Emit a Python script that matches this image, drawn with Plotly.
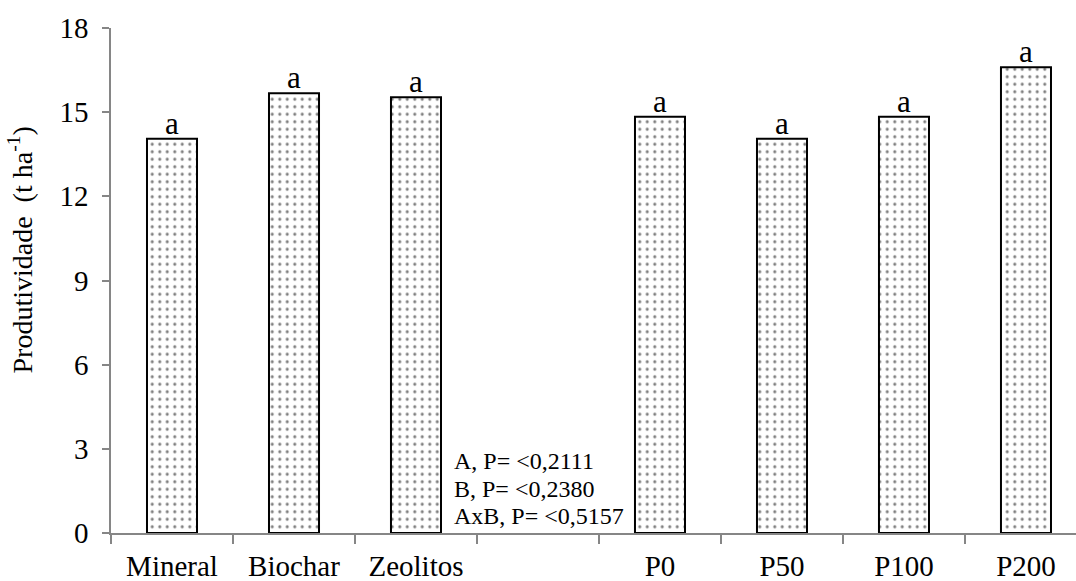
import plotly.graph_objects as go

categories = ["Mineral", "Biochar", "Zeolitos", " ", "P0", "P50", "P100", "P200"]
values = [14.05, 15.67, 15.53, None, 14.84, 14.05, 14.84, 16.6]
letters = ["a", "a", "a", "", "a", "a", "a", "a"]
stats_lines = ["A, P= <0,2111", "B, P= <0,2380", "AxB, P= <0,5157"]
stats_y = [2.56, 1.57, 0.60]
y_ticks = [0, 3, 6, 9, 12, 15, 18]

FONT = "Liberation Serif, Times New Roman, serif"
GRAY = "#868686"

fig = go.Figure()
fig.add_trace(go.Bar(
    x=categories, y=values,
    marker=dict(
        color="white",
        line=dict(color="black", width=2),
        pattern=dict(shape=".", fgcolor="black", bgcolor="white", size=7.5, solidity=0.13),
    ),
    showlegend=False,
))

for c, v, t in zip(categories, values, letters):
    if v is None or not t:
        continue
    fig.add_annotation(x=c, y=v, text=t, showarrow=False, xref="x", yref="y",
                       yanchor="bottom", yshift=-4,
                       font=dict(family=FONT, size=31, color="black"))

for line, yy in zip(stats_lines, stats_y):
    fig.add_annotation(x=0.3535, xref="paper", y=yy, yref="y", xanchor="left", yanchor="middle",
                       align="left", showarrow=False, text=line,
                       font=dict(family=FONT, size=24, color="black"))

# y-axis title as rotated annotation
fig.add_annotation(x=-0.094, xref="paper", y=0.56, yref="paper", xanchor="center", yanchor="middle",
                   textangle=-90, showarrow=False,
                   text="Produtividade  (t ha<sup>-1</sup>)",
                   font=dict(family=FONT, size=28, color="black"))

fig.update_layout(
    width=1076, height=581,
    margin=dict(l=111, r=0, t=28, b=48),
    paper_bgcolor="white", plot_bgcolor="white",
    bargap=0.59,
    font=dict(family=FONT, color="black"),
)
fig.update_xaxes(
    type="category", categoryorder="array", categoryarray=categories,
    range=[-0.5, 7.41], tickson="boundaries", ticks="outside", ticklen=9,
    tickcolor=GRAY, tickwidth=1.5, showline=True, linecolor=GRAY, linewidth=1.5,
    showgrid=False, tickfont=dict(family=FONT, size=29, color="black"),
    ticklabelstandoff=6, automargin=False,
)
fig.update_yaxes(
    range=[0, 18], tickvals=y_ticks, ticks="outside", ticklen=7,
    tickcolor=GRAY, tickwidth=1.5, showline=True, linecolor=GRAY, linewidth=1.5,
    showgrid=False, zeroline=False, tickfont=dict(family=FONT, size=29, color="black"),
    ticklabelstandoff=8, automargin=False,
)

fig.write_html("out.html")
